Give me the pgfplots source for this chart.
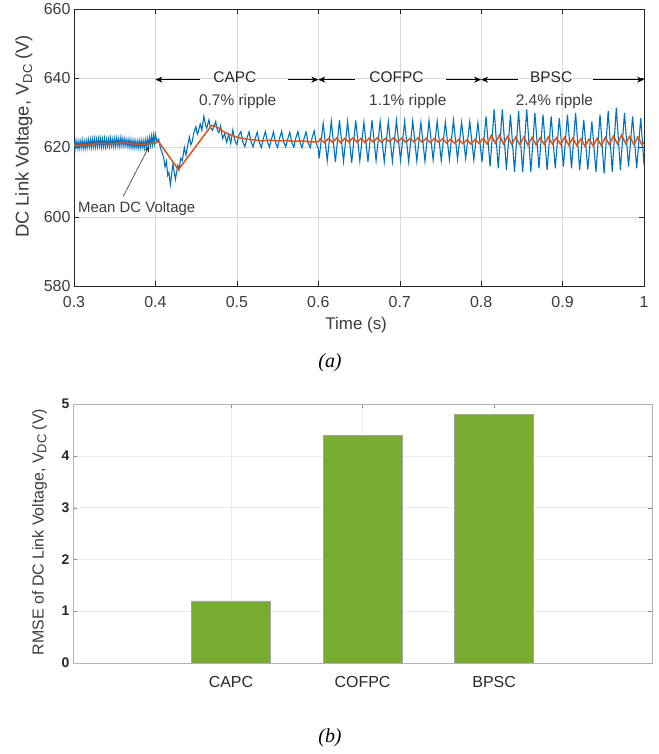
\documentclass[border=0pt]{standalone}
\usepackage{fontspec}
\setmainfont{Liberation Sans}
\newfontfamily\capfont{Liberation Serif}
\usepackage{pgfplots}
\pgfplotsset{compat=1.18}
\usetikzlibrary{arrows.meta}

\definecolor{mblue}{RGB}{0,114,189}
\definecolor{morange}{RGB}{217,83,25}
\definecolor{mgreen}{RGB}{119,172,48}
\definecolor{txt}{RGB}{60,60,60}

\newcommand{\sub}[1]{\raisebox{-0.35ex}{\fontsize{13}{13}\selectfont #1}}

\begin{document}
\begin{tikzpicture}
\useasboundingbox (0,0) rectangle (659bp,754bp);

% (a) DC link voltage
\begin{axis}[
  at={(74bp,468bp)}, anchor=south west,
  scale only axis, width=570bp, height=277bp,
  xmin=0.3, xmax=1, ymin=580, ymax=660,
  xtick={0.3,0.4,0.5,0.6,0.7,0.8,0.9,1},
  xticklabels={0.3,0.4,0.5,0.6,0.7,0.8,0.9,1},
  ytick={580,600,620,640,660},
  grid=major, major grid style={black!15},
  tick align=inside, major tick length=5bp,
  axis line style={black!85}, tick style={black!85},
  /pgf/number format/assume math mode=true,
  ticklabel style={font=\fontsize{16}{16}\selectfont, text=txt},
  xticklabel style={yshift=-7bp},
  xlabel={Time (s)}, ylabel={DC Link Voltage, V\sub{DC} (V)},
  xlabel style={font=\fontsize{17}{17}\selectfont, text=txt,
    at={(axis description cs:0.495,-0.142)}, anchor=center},
  ylabel style={font=\fontsize{18.5}{18.5}\selectfont, text=txt,
    at={(axis description cs:-0.088,0.54)}, anchor=center},
]
% DC voltage
\addplot[mblue, line width=1.1pt] coordinates {
(0.30000,621.9) (0.30125,619.7) (0.30250,622.0) (0.30375,619.8) (0.30500,621.8)
(0.30625,619.6) (0.30750,621.9) (0.30875,619.9) (0.31000,622.1) (0.31125,619.8)
(0.31250,621.9) (0.31375,619.7) (0.31500,622.0) (0.31625,620.0) (0.31750,622.2)
(0.31875,620.1) (0.32000,622.3) (0.32125,620.0) (0.32250,622.4) (0.32375,620.2)
(0.32500,622.5) (0.32625,620.1) (0.32750,622.3) (0.32875,620.3) (0.33000,622.6)
(0.33125,620.4) (0.33250,622.5) (0.33375,620.2) (0.33500,622.4) (0.33625,620.3)
(0.33750,622.6) (0.33875,620.2) (0.34000,622.3) (0.34125,620.4) (0.34250,622.5)
(0.34375,620.3) (0.34500,622.7) (0.34625,620.5) (0.34750,622.4) (0.34875,620.3)
(0.35000,622.6) (0.35125,620.4) (0.35250,622.7) (0.35375,620.5) (0.35500,622.5)
(0.35625,620.3) (0.35750,622.8) (0.35875,620.6) (0.36000,622.6) (0.36125,620.4)
(0.36250,622.5) (0.36375,620.5) (0.36500,622.3) (0.36625,620.2) (0.36750,622.4)
(0.36875,620.1) (0.37000,622.2) (0.37125,620.0) (0.37250,622.1) (0.37375,619.9)
(0.37500,622.0) (0.37625,620.0) (0.37750,621.9) (0.37875,619.8) (0.38000,622.0)
(0.38125,619.9) (0.38250,622.1) (0.38375,620.0) (0.38500,621.9) (0.38625,619.8)
(0.38750,622.2) (0.38875,620.1) (0.39000,622.4) (0.39125,620.3) (0.39250,622.8)
(0.39375,620.6) (0.39500,623.3) (0.39625,620.9) (0.39750,623.6) (0.39875,621.2)
(0.4000,623.8) (0.4020,621.6) (0.4040,622.4) (0.4060,620.0) (0.4080,618.6)
(0.4100,617.2) (0.4118,614.4) (0.4135,616.0) (0.4150,612.0) (0.4165,612.8)
(0.4184,609.3) (0.4200,612.5) (0.4215,615.2) (0.4230,613.0) (0.4245,610.8)
(0.4260,612.8) (0.4275,614.8) (0.4290,613.6) (0.4310,616.8) (0.4330,616.2)
(0.4355,620.0) (0.4375,617.8) (0.4395,620.5) (0.4417,623.0) (0.4435,620.8)
(0.4450,621.6) (0.4475,624.5) (0.4497,626.0) (0.4515,623.8) (0.4527,624.6)
(0.4550,626.8) (0.4570,625.0) (0.4595,629.0) (0.4615,626.5) (0.4630,625.6)
(0.4657,628.0) (0.4675,625.8) (0.4700,625.0) (0.4720,626.2) (0.4740,627.5)
(0.4760,625.0) (0.4780,624.3) (0.4800,626.2) (0.4825,622.6) (0.4850,624.0)
(0.4875,621.5) (0.4900,623.8) (0.4925,621.2) (0.4950,625.0) (0.4975,622.0)
(0.5000,620.8) (0.5025,623.6) (0.5050,624.6) (0.5075,621.4) (0.5100,620.3)
(0.5125,622.8) (0.5150,624.5) (0.5175,621.6) (0.5200,620.2) (0.5225,622.5)
(0.5250,624.4) (0.5275,621.5) (0.5300,620.0) (0.5325,622.6) (0.5350,624.6)
(0.5375,621.7) (0.5400,620.1) (0.5425,622.4) (0.5450,624.5) (0.5475,621.3)
(0.5500,620.0) (0.5525,622.7) (0.5550,624.7) (0.5575,621.6) (0.5600,620.2)
(0.5625,622.5) (0.5650,624.4) (0.5675,621.4) (0.5700,620.1) (0.5725,622.8)
(0.5750,624.6) (0.5775,621.5) (0.5800,619.9) (0.5825,622.6) (0.5850,624.5)
(0.5875,621.3) (0.5900,620.0) (0.5925,622.9) (0.5950,624.8) (0.5975,621.2)
(0.6000,619.6) (0.6010,616.8) (0.6060,627.0) (0.6110,616.2) (0.6160,627.6)
(0.6210,615.8) (0.6260,627.9) (0.6310,616.0) (0.6360,627.5) (0.6410,615.6)
(0.6460,627.8) (0.6510,616.1) (0.6560,627.3) (0.6610,615.8) (0.6660,627.9)
(0.6710,616.2) (0.6760,627.6) (0.6810,615.9) (0.6860,627.4) (0.6910,616.0)
(0.6960,627.8) (0.7010,616.3) (0.7060,627.5) (0.7110,615.9) (0.7160,627.7)
(0.7210,616.1) (0.7260,627.2) (0.7310,616.0) (0.7360,627.8) (0.7410,616.4)
(0.7460,627.6) (0.7510,616.2) (0.7560,627.4) (0.7610,616.5) (0.7660,627.9)
(0.7710,616.6) (0.7760,627.3) (0.7810,616.8) (0.7860,627.5) (0.7910,616.4)
(0.7960,627.2) (0.8010,615.8) (0.8060,629.0) (0.8110,614.5) (0.8160,631.0)
(0.8210,614.0) (0.8260,631.0) (0.8310,613.5) (0.8360,629.5) (0.8410,613.0)
(0.8460,630.5) (0.8510,612.8) (0.8560,631.0) (0.8610,613.0) (0.8660,630.0)
(0.8710,614.0) (0.8760,629.5) (0.8810,613.5) (0.8860,629.0) (0.8910,614.0)
(0.8960,628.5) (0.9010,614.5) (0.9060,629.5) (0.9110,614.0) (0.9160,630.0)
(0.9210,613.5) (0.9260,628.0) (0.9310,613.6) (0.9360,627.5) (0.9410,613.0)
(0.9460,629.5) (0.9510,612.5) (0.9560,630.5) (0.9610,613.0) (0.9660,631.5)
(0.9710,613.5) (0.9760,630.0) (0.9810,614.5) (0.9860,629.0) (0.9910,614.0)
(0.9960,628.5) (1.0000,615.0)
};
% mean DC voltage
\addplot[morange, line width=1.5pt] coordinates {
(0.300,620.7) (0.305,620.6) (0.310,620.7) (0.315,620.8) (0.320,620.9)
(0.325,621.0) (0.330,621.2) (0.335,621.2) (0.340,621.1) (0.345,621.0)
(0.350,621.1) (0.355,621.3) (0.360,621.4) (0.365,621.3) (0.370,621.1)
(0.375,620.9) (0.380,620.9) (0.385,620.9) (0.390,621.0) (0.395,621.1)
(0.400,621.3) (0.4035,621.8) (0.4283,613.6) (0.4690,626.4) (0.475,626.0)
(0.480,625.2) (0.485,624.4) (0.490,623.8) (0.495,623.4) (0.500,623.0)
(0.505,622.7) (0.510,622.5) (0.515,622.3) (0.520,622.2) (0.530,621.9)
(0.540,622.1) (0.550,621.9) (0.560,622.0) (0.570,621.8) (0.580,621.9)
(0.590,621.6) (0.600,621.6)
(0.6025,622.5) (0.6075,621.4) (0.6125,622.6) (0.6175,621.5) (0.6225,622.7)
(0.6275,621.4) (0.6325,622.6) (0.6375,621.6) (0.6425,622.8) (0.6475,621.5)
(0.6525,622.6) (0.6575,621.4) (0.6625,622.7) (0.6675,621.6) (0.6725,622.8)
(0.6775,621.5) (0.6825,622.6) (0.6875,621.7) (0.6925,622.8) (0.6975,621.6)
(0.7025,622.7) (0.7075,621.5) (0.7125,622.6) (0.7175,621.6) (0.7225,622.8)
(0.7275,621.5) (0.7325,622.7) (0.7375,621.4) (0.7425,622.6) (0.7475,621.5)
(0.7525,622.5) (0.7575,621.3) (0.7625,622.4) (0.7675,621.2) (0.7725,622.3)
(0.7775,621.1) (0.7825,622.2) (0.7875,621.0) (0.7925,622.3) (0.7975,621.2)
(0.8025,622.6) (0.8075,621.0) (0.8125,623.5) (0.8175,621.2) (0.8225,623.6)
(0.8275,621.0) (0.8325,623.2) (0.8375,620.9) (0.8425,623.0) (0.8475,620.8)
(0.8525,623.1) (0.8575,620.7) (0.8625,622.9) (0.8675,620.8) (0.8725,622.8)
(0.8775,620.9) (0.8825,623.0) (0.8875,621.0) (0.8925,622.8) (0.8975,620.9)
(0.9025,622.9) (0.9075,620.7) (0.9125,622.7) (0.9175,620.6) (0.9225,622.5)
(0.9275,620.4) (0.9325,622.4) (0.9375,620.5) (0.9425,622.6) (0.9475,620.6)
(0.9525,622.9) (0.9575,620.8) (0.9625,623.3) (0.9675,621.0) (0.9725,623.6)
(0.9775,621.1) (0.9825,623.2) (0.9875,620.9) (0.9925,623.0) (0.9975,620.8)
(1.0000,621.6)
};
% section markers
\begin{scope}[black, line width=0.8pt, font=\fontsize{15.5}{15.5}\selectfont]
\draw[-{Stealth[length=7bp,width=6bp]}] (axis cs:0.4546,639.6) -- (axis cs:0.4,639.6);
\draw[-{Stealth[length=7bp,width=6bp]}] (axis cs:0.563,639.6) -- (axis cs:0.6,639.6);
\draw[-{Stealth[length=7bp,width=6bp]}] (axis cs:0.6448,639.6) -- (axis cs:0.6,639.6);
\draw[-{Stealth[length=7bp,width=6bp]}] (axis cs:0.7573,639.6) -- (axis cs:0.8,639.6);
\draw[-{Stealth[length=7bp,width=6bp]}] (axis cs:0.845,639.6) -- (axis cs:0.8,639.6);
\draw[-{Stealth[length=7bp,width=6bp]}] (axis cs:0.937,639.6) -- (axis cs:1.0,639.6);
\node[text=black!85] at (axis cs:0.4975,640.2) {CAPC};
\node[text=black!85] at (axis cs:0.696,640.2) {COFPC};
\node[text=black!85] at (axis cs:0.886,640.2) {BPSC};
\node[text=txt] at (axis cs:0.501,633.4) {0.7\% ripple};
\node[text=txt] at (axis cs:0.710,633.2) {1.1\% ripple};
\node[text=txt] at (axis cs:0.890,633.2) {2.4\% ripple};
\end{scope}
\draw[-{Stealth[length=6bp,width=5bp]}, black!80, line width=0.6pt]
  (axis cs:0.3605,605.9) -- (axis cs:0.3924,620.4);
\node[text=txt, font=\fontsize{15}{15}\selectfont] at (axis cs:0.377,602.4) {Mean DC Voltage};
\end{axis}

\node[font=\capfont\itshape\fontsize{20}{20}\selectfont] at (330bp,391bp) {(a)};

% (b) RMSE
\begin{axis}[
  at={(73bp,91bp)}, anchor=south west,
  scale only axis, width=579bp, height=259bp,
  xmin=-0.2, xmax=4.2, ymin=0, ymax=5,
  xtick={1,2,3},
  xticklabels={\raisebox{-3bp}{CAPC},\raisebox{0bp}{COFPC},\raisebox{2bp}{BPSC}},
  ytick={0,1,2,3,4,5},
  grid=major, major grid style={black!8},
  tick align=inside, major tick length=4bp,
  axis line style={black!30}, tick style={black!45},
  /pgf/number format/assume math mode=true,
  xticklabel style={font=\fontsize{16}{16}\selectfont, text=black!85, yshift=-10bp},
  yticklabel style={font=\bfseries\fontsize{14}{14}\selectfont, text=black!85},
  ylabel={RMSE of DC Link Voltage, V\sub{DC} (V)},
  ylabel style={font=\fontsize{16}{16}\selectfont, text=txt,
    at={(axis description cs:-0.058,0.506)}, anchor=center},
]
\addplot[ybar, bar width=0.6, fill=mgreen, draw=black!35, line width=0.5pt]
  coordinates {(1,1.2) (2,4.4) (3,4.8)};
\end{axis}

\node[font=\capfont\itshape\fontsize{20}{20}\selectfont] at (330bp,16bp) {(b)};
\end{tikzpicture}
\end{document}
